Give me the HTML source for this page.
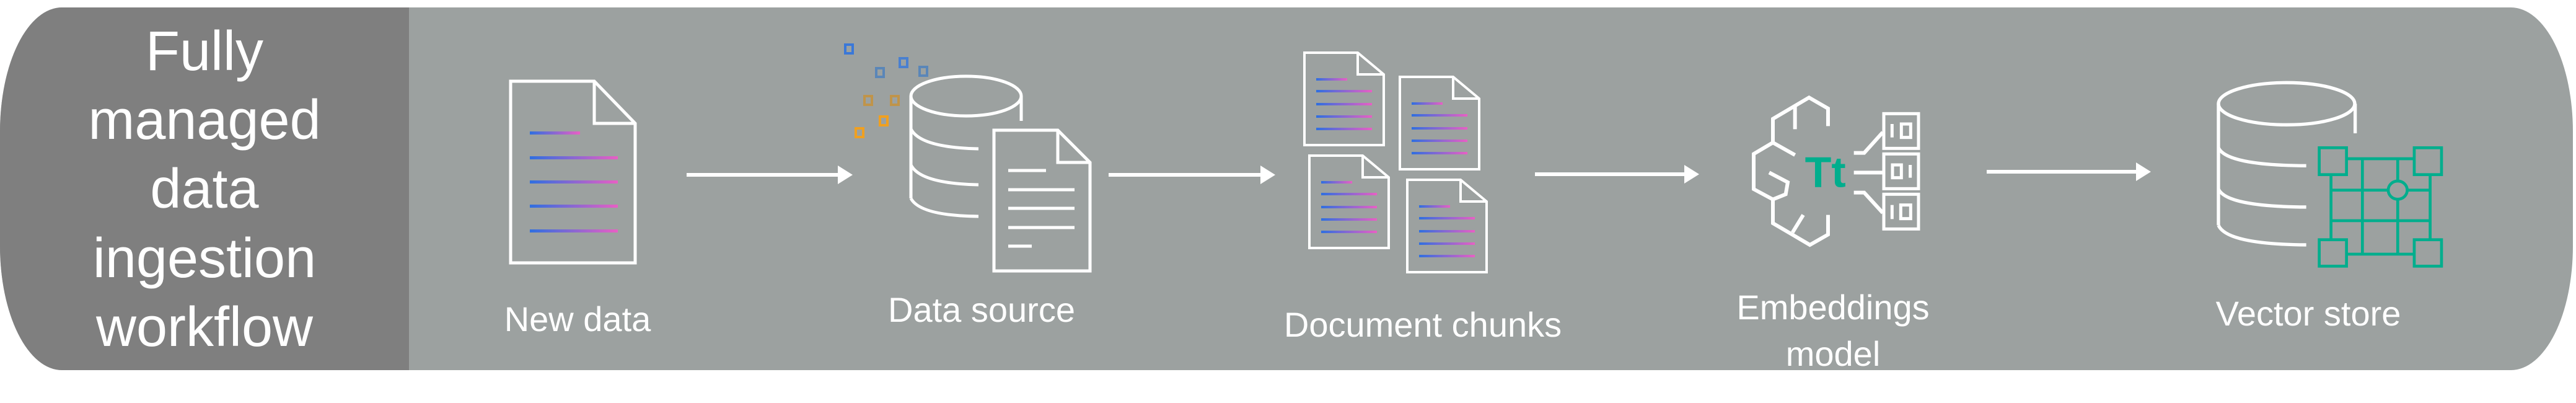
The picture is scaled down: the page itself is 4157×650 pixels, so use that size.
<!DOCTYPE html>
<html><head><meta charset="utf-8"><style>
html,body{margin:0;padding:0;background:#fff;width:4157px;height:650px;overflow:hidden}
svg{display:block}
text{font-family:"Liberation Sans","DejaVu Sans",sans-serif;fill:#fff}
</style></head><body>
<svg width="4157" height="650" viewBox="0 0 4157 650" xmlns="http://www.w3.org/2000/svg">
<defs>
<linearGradient id="g" x1="0" x2="1" y1="0" y2="0"><stop offset="0" stop-color="#2f6fe0"/><stop offset="1" stop-color="#e85fc4"/></linearGradient>
<clipPath id="c"><rect x="0" y="12" width="4152" height="585" rx="100" ry="200"/></clipPath>
</defs>
<g clip-path="url(#c)">
<rect x="0" y="12" width="4157" height="585" fill="#9ca1a0"/>
<rect x="0" y="12" width="660" height="585" fill="#7f7f7f"/>
</g>
<g font-size="90" text-anchor="middle">
<text x="330" y="113">Fully</text>
<text x="330" y="224">managed</text>
<text x="330" y="335">data</text>
<text x="330" y="447">ingestion</text>
<text x="330" y="558">workflow</text>
</g>
<g font-size="56" text-anchor="middle">
<text x="932" y="534">New data</text>
<text x="1584" y="519">Data source</text>
<text x="2296" y="543">Document chunks</text>
<text x="2958" y="515">Embeddings</text>
<text x="2958" y="590">model</text>
<text x="3725" y="525">Vector store</text>
</g>
<!-- arrows -->
<g stroke="#fff" stroke-width="6" fill="#fff">
<line x1="1108" y1="282" x2="1360" y2="282"/><polygon points="1352,267 1376,282 1352,297" stroke="none"/>
<line x1="1789" y1="282" x2="2042" y2="282"/><polygon points="2034,267 2058,282 2034,297" stroke="none"/>
<line x1="2477" y1="281" x2="2726" y2="281"/><polygon points="2718,266 2742,281 2718,296" stroke="none"/>
<line x1="3206" y1="277" x2="3455" y2="277"/><polygon points="3447,262 3471,277 3447,292" stroke="none"/>
</g>
<!-- new data doc -->
<g fill="none" stroke="#fff" stroke-width="5">
<path d="M824,131 H959 L1025,199 V424 H824 Z"/><path d="M959,131 V199 H1025"/>
</g>
<g fill="url(#g)">
<rect x="855" y="212" width="81" height="5"/><rect x="855" y="252" width="142" height="5"/><rect x="855" y="291" width="142" height="5"/><rect x="855" y="330" width="142" height="5"/><rect x="855" y="370" width="142" height="5"/>
</g>
<!-- data source -->
<g fill="none" stroke="#fff" stroke-width="5">
<ellipse cx="1559" cy="155" rx="89" ry="32"/>
<path d="M1470,155 V320"/><path d="M1648,155 V195"/>
<path d="M1470,208 Q1485,238 1579,240"/><path d="M1470,266 Q1485,296 1579,298"/><path d="M1470,320 Q1485,348 1579,349"/>
<path d="M1604,210 H1707 L1759,262 V437 H1604 Z" fill="#9ca1a0"/><path d="M1707,210 V262 H1759"/>
<line x1="1627" y1="275" x2="1688" y2="275"/><line x1="1627" y1="306" x2="1734" y2="306"/><line x1="1627" y1="336" x2="1734" y2="336"/><line x1="1627" y1="367" x2="1734" y2="367"/><line x1="1627" y1="397" x2="1665" y2="397"/>
</g>
<g fill="none" stroke-width="4">
<rect x="1364" y="72" width="12" height="14" stroke="#3a78d8"/>
<rect x="1414" y="110" width="12" height="14" stroke="#5a86b8"/>
<rect x="1452" y="94" width="12" height="14" stroke="#4a80d0"/>
<rect x="1484" y="108" width="12" height="14" stroke="#5a86b8"/>
<rect x="1395" y="155" width="12" height="14" stroke="#c0944a"/>
<rect x="1438" y="155" width="12" height="14" stroke="#c0944a"/>
<rect x="1420" y="188" width="12" height="14" stroke="#f0a020"/>
<rect x="1381" y="207" width="12" height="14" stroke="#f0a020"/>
</g>
<!-- document chunks -->
<g id="d">
<g fill="none" stroke="#fff" stroke-width="4">
<path d="M2105,85 H2191 L2233,120 V234 H2105 Z"/><path d="M2191,85 V120 H2233"/>
</g>
<g fill="url(#g)">
<rect x="2124" y="126" width="50" height="4"/><rect x="2124" y="145" width="90" height="4"/><rect x="2124" y="166" width="90" height="4"/><rect x="2124" y="186" width="90" height="4"/><rect x="2124" y="206" width="90" height="4"/>
</g>
</g>
<use href="#d" x="154" y="39"/>
<use href="#d" x="8" y="166"/>
<use href="#d" x="166" y="205"/>
<!-- embeddings -->
<g transform="translate(2800,140) scale(0.3333)">
<g fill="none" stroke="#fff" stroke-width="18">
<polyline points="183,270 183,155 358,52 450,105 450,190"/>
<line x1="290" y1="95" x2="290" y2="205"/>
<line x1="183" y1="270" x2="290" y2="330"/>
<polyline points="183,270 90,325 90,495 183,545 183,660 362,765 450,715 450,620"/>
<polyline points="165,415 255,462 245,520 183,545"/>
<line x1="330" y1="620" x2="278" y2="705"/>
<polyline points="575,320 625,320 715,220"/>
<line x1="575" y1="415" x2="715" y2="415"/>
<polyline points="575,512 625,512 715,610"/>
</g>
<g fill="none" stroke="#fff" stroke-width="15">
<rect x="720" y="130" width="168" height="168"/><rect x="720" y="325" width="168" height="168"/><rect x="720" y="520" width="168" height="168"/>
<line x1="760" y1="180" x2="760" y2="245"/><rect x="805" y="180" width="45" height="65"/>
<rect x="762" y="378" width="43" height="62"/><line x1="848" y1="378" x2="848" y2="440"/>
<line x1="760" y1="572" x2="760" y2="640"/><rect x="802" y="572" width="48" height="66"/>
</g>
<text x="437" y="485" text-anchor="middle" font-size="210" font-weight="bold" style="fill:#00ae8d">Tt</text>
</g>
<!-- vector store -->
<g transform="translate(3560,120) scale(0.3333)">
<g fill="none" stroke="#fff" stroke-width="16">
<ellipse cx="390" cy="142" rx="330" ry="102"/>
<line x1="60" y1="142" x2="60" y2="730"/><line x1="722" y1="142" x2="722" y2="285"/>
<path d="M60,355 Q100,440 485,442"/><path d="M60,555 Q100,640 485,642"/><path d="M60,730 Q100,822 485,825"/>
</g>
<g fill="none" stroke="#00ae8d" stroke-width="14">
<rect x="548" y="355" width="132" height="130"/><rect x="1008" y="355" width="132" height="130"/>
<rect x="548" y="800" width="132" height="128"/><rect x="1008" y="800" width="132" height="128"/>
<line x1="680" y1="408" x2="1008" y2="408"/><line x1="680" y1="870" x2="1008" y2="870"/>
<line x1="605" y1="560" x2="880" y2="560"/><line x1="975" y1="560" x2="1085" y2="560"/>
<line x1="605" y1="708" x2="1085" y2="708"/>
<line x1="605" y1="485" x2="605" y2="800"/><line x1="1085" y1="485" x2="1085" y2="800"/>
<line x1="757" y1="408" x2="757" y2="870"/>
<line x1="928" y1="408" x2="928" y2="515"/><line x1="928" y1="605" x2="928" y2="870"/>
<ellipse cx="928" cy="560" rx="46" ry="44"/>
</g>
</g>
</svg>
</body></html>
